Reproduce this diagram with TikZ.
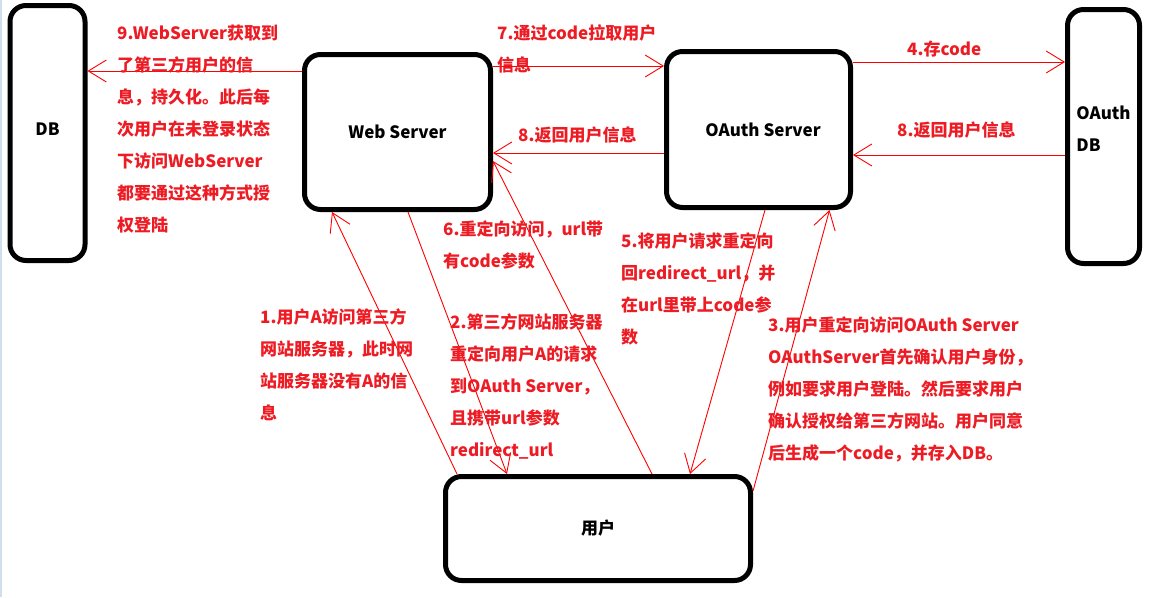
\documentclass[tikz,border=0pt]{standalone}
\usepackage{fontspec}
\setmainfont{Noto Sans CJK SC}
\usetikzlibrary{arrows.meta}
\definecolor{lbl}{RGB}{237,28,36}
\definecolor{ln}{RGB}{255,0,0}
\definecolor{edge}{RGB}{208,222,238}
\tikzset{
  box/.style={draw=black, line width=5pt, rounded corners=16pt, inner sep=0pt,
    font=\fontsize{17pt}{32pt}\selectfont\bfseries, text=black},
  arr/.style={draw=ln, line width=0.9pt, -{Straight Barb[length=18pt,width=22pt]}},
  lab/.style={anchor=north west, inner sep=0pt, align=left, text=lbl,
    font=\fontsize{17pt}{32pt}\selectfont\bfseries}
}
\begin{document}
\begin{tikzpicture}[x=1pt,y=-1pt]
\useasboundingbox[fill=white] (0,0) rectangle (1150,597);
\fill[edge] (0,0) rectangle (1.5,597);
% boxes
\node[box, minimum width=75pt, minimum height=255pt, text depth=8pt] (db) at (47.5,133) {DB};
\node[box, minimum width=186pt, minimum height=155pt] (ws) at (397.5,132) {Web Server};
\node[box, minimum width=184pt, minimum height=156pt] (os) at (758.5,129.5) {\hspace*{9pt}OAuth Server};
\node[box, minimum width=72pt, minimum height=254pt, align=left, text depth=15pt] (odb) at (1103.5,136.5) {OAuth\\DB};
\node[box, minimum width=305pt, minimum height=104pt] (user) at (598,528.5) {用户};
% horizontal connectors
\draw[arr] ([yshift=61pt]ws.west) -- ([yshift=61pt]ws.west -| db.east);
\draw[arr] ([yshift=66pt]ws.east) -- ([yshift=66pt]ws.east -| os.west);
\draw[arr] ([yshift=67.5pt]os.east) -- ([yshift=67.5pt]os.east -| odb.west);
\draw[arr] ([yshift=-18.5pt]odb.west) -- ([yshift=-18.5pt]odb.west -| os.east);
\draw[arr] ([yshift=-23.5pt]os.west) -- ([yshift=-23.5pt]os.west -| ws.east);
% diagonal connectors
\draw[arr] ([xshift=-141pt]user.north) -- ([xshift=-65.5pt]ws.south);
\draw[arr] ([xshift=10.5pt]ws.south) -- ([xshift=-91pt]user.north);
\draw[arr] ([xshift=54pt]user.north) -- ([yshift=-29pt]ws.east);
\draw[arr] ([xshift=6.5pt]os.south) -- ([xshift=92pt]user.north);
\draw[arr] ([yshift=37.5pt]user.east) -- ([xshift=71pt]os.south);
% labels
\node[lab] (l9) at (117,24.5) {9.WebServer获取到\\了第三方用户的信\\息，持久化。此后每\\次用户在未登录状态\\下访问WebServer\\都要通过这种方式授\\权登陆};
\node[lab] (l7) at (497,24.5) {7.通过code拉取用户\\信息};
\node[lab] (l8a) at (518,126.5) {8.返回用户信息};
\node[lab] (l4) at (907,40.5) {4.存code};
\node[lab] (l8b) at (897,121.5) {8.返回用户信息};
\node[lab] (l6) at (443,220.5) {6.重定向访问，url带\\有code参数};
\node[lab] (l5) at (621,232.5) {5.将用户请求重定向\\回redirect\_url，并\\在url里带上code参\\数};
\node[lab] (l1) at (260,308.5) {1.用户A访问第三方\\网站服务器，此时网\\站服务器没有A的信\\息};
\node[lab] (l2) at (450,313.5) {2.第三方网站服务器\\重定向用户A的请求\\到OAuth Server，\\且携带url参数\\redirect\_url};
\node[lab] (l3) at (768,316.5) {3.用户重定向访问OAuth Server\\OAuthServer首先确认用户身份，\\例如要求用户登陆。然后要求用户\\确认授权给第三方网站。用户同意\\后生成一个code，并存入DB。};
\end{tikzpicture}
\end{document}
